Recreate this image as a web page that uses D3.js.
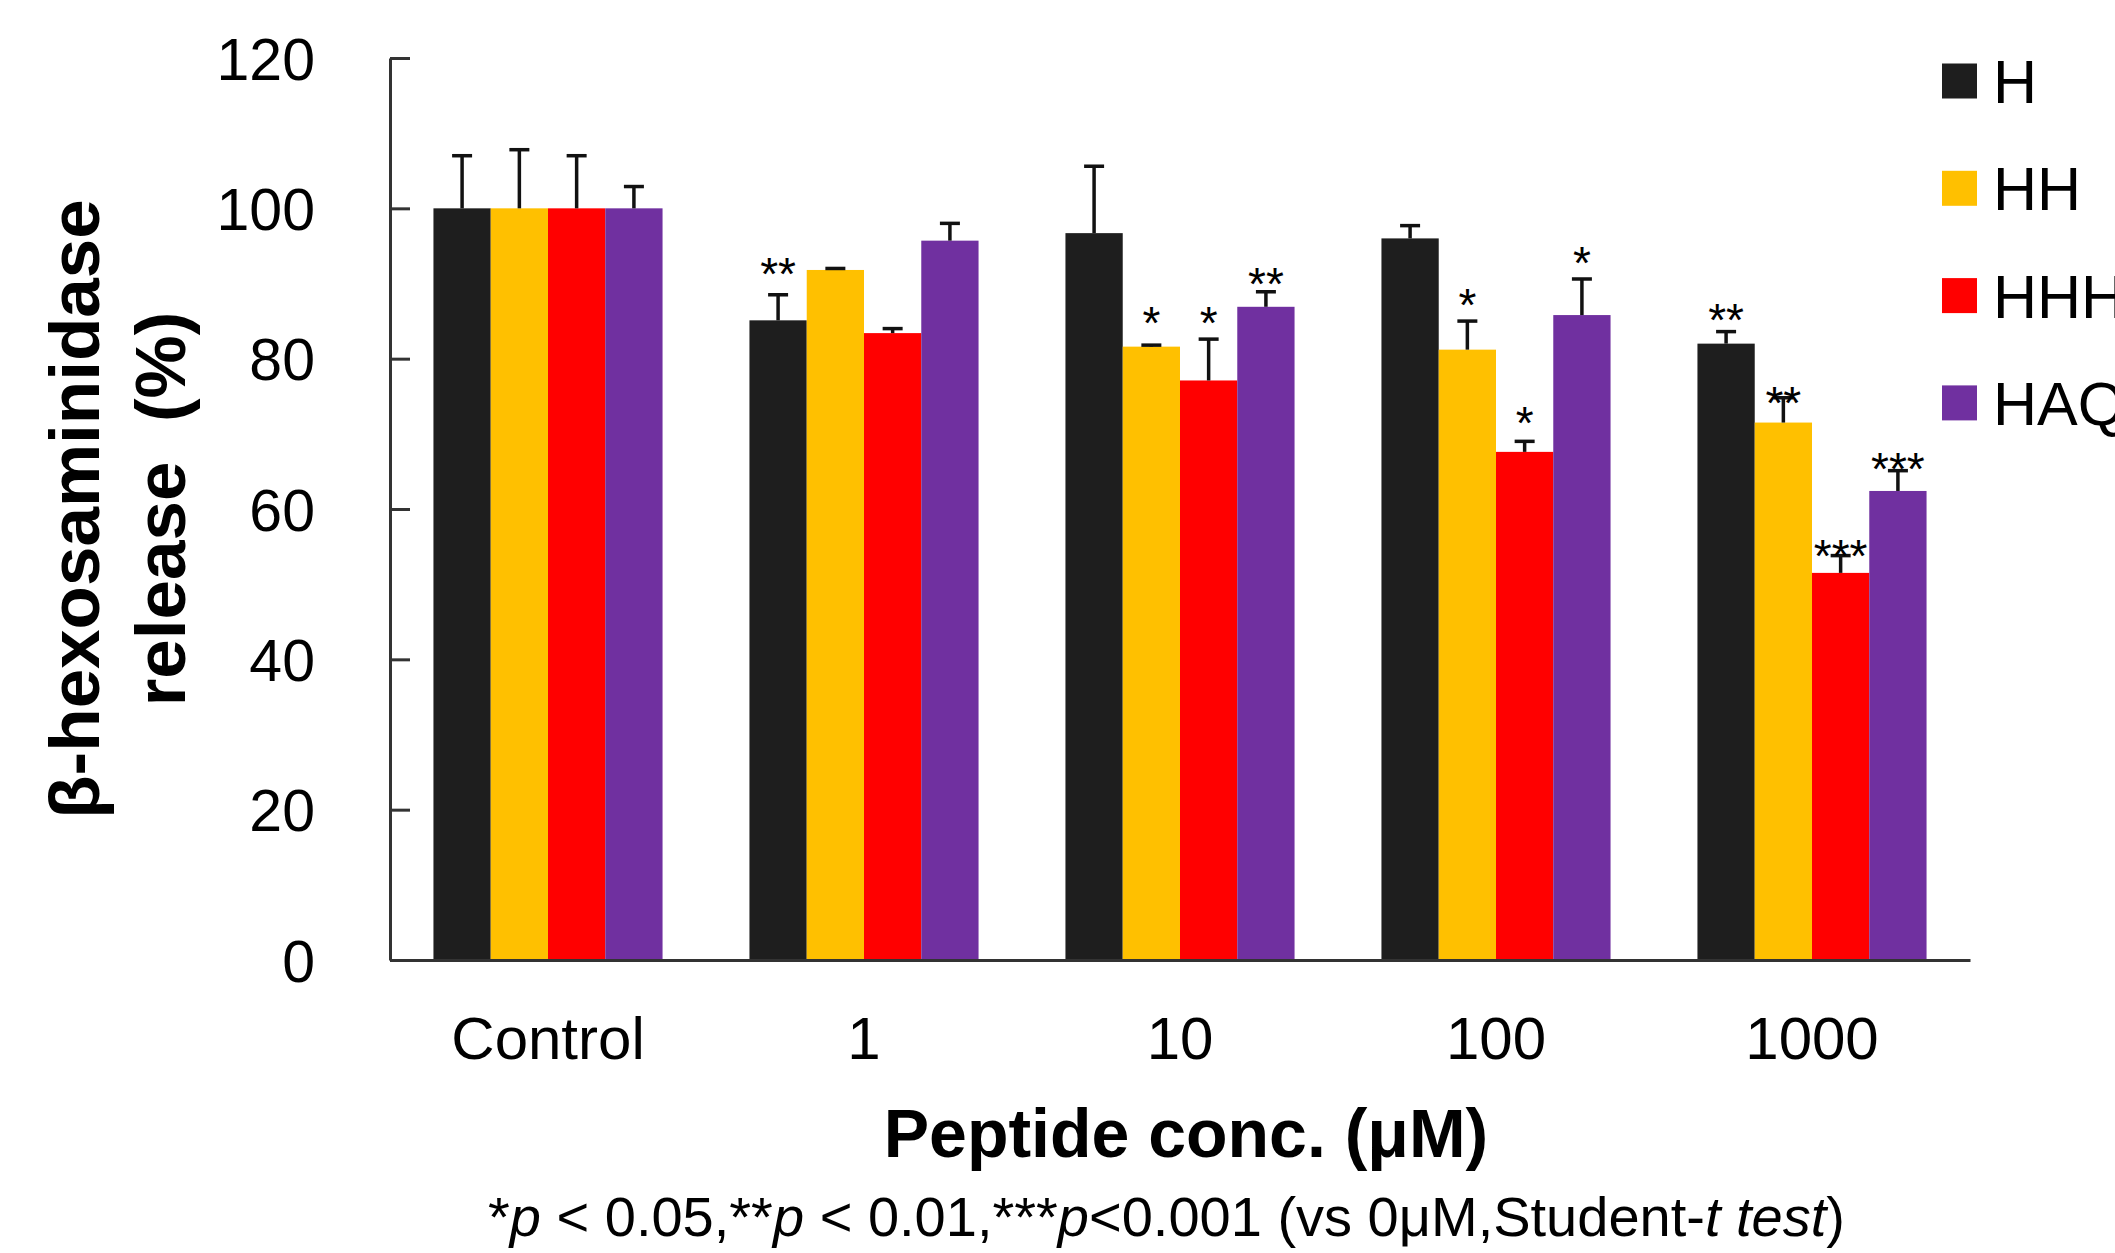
<!DOCTYPE html>
<html>
<head>
<meta charset="utf-8">
<script src="https://cdn.jsdelivr.net/npm/d3@7"></script>
<style>
  html, body { margin: 0; padding: 0; background: #fff; }
  svg { display: block; }
  text { font-family: "Liberation Sans", Arial, sans-serif; fill: #000; }
</style>
</head>
<body>
<script>
// ---- data ----
const categories = ["Control", "1", "10", "100", "1000"];
const seriesNames = ["H", "HH", "HHH", "HAQ"];
const seriesColors = ["#1e1e1e", "#FFC000", "#FF0000", "#7030A0"];

const valH   = [100, 85.1, 96.7, 96.0, 82.0];
const valHH  = [100, 91.8, 81.6, 81.2, 71.5];
const valHHH = [100, 83.4, 77.1, 67.6, 51.5];
const valHAQ = [100, 95.7, 86.9, 85.8, 62.4];

const errH   = [7.0, 3.4, 8.9, 1.7, 1.6];
const errHH  = [7.8, 0.2, 0.2, 3.8, 3.3];
const errHHH = [7.0, 0.6, 5.5, 1.4, 2.3];
const errHAQ = [2.9, 2.3, 2.0, 4.8, 2.7];

// significance marks and the data level (%) at which each mark sits
const sigH   = ["", "**", "", "", "**"];
const sigHH  = ["", "", "*", "*", "**"];
const sigHHH = ["", "", "*", "*", "***"];
const sigHAQ = ["", "", "**", "*", "***"];
const sigLvH   = [null, 92.7, null, null, 86.5];
const sigLvHH  = [null, null, 86.1, 88.6, 75.5];
const sigLvHHH = [null, null, 86.1, 72.8, 55.2];
const sigLvHAQ = [null, null, 91.4, 94.2, 66.7];

const yTicks = [0, 20, 40, 60, 80, 100, 120];
const yTitle = ["β-hexosaminidase", "release  (%)"];
const xTitle = "Peptide conc. (μM)";

// ---- build ----
(function () {
const values = [valH, valHH, valHHH, valHAQ];
const errors = [errH, errHH, errHHH, errHAQ];
const sigs = [sigH, sigHH, sigHHH, sigHAQ];
const sigLv = [sigLvH, sigLvHH, sigLvHHH, sigLvHAQ];

const W = 2115, H = 1253;
const pL = 390, pR = 1970, pT = 58, pB = 960;

const svg = d3.select("body").append("svg")
  .attr("width", W).attr("height", H).attr("viewBox", `0 0 ${W} ${H}`);
svg.append("rect").attr("width", W).attr("height", H).attr("fill", "#fff");

const y = d3.scaleLinear().domain([0, 120]).range([pB, pT]);
const x0 = d3.scaleBand().domain(categories).range([pL, pR])
  .paddingInner(0.275).paddingOuter(0.1375);
const x1 = d3.scaleBand().domain(seriesNames).range([0, x0.bandwidth()]);

const rows = [];
seriesNames.forEach((s, si) => {
  categories.forEach((c, ci) => {
    rows.push({ s, si, c, v: values[si][ci], e: errors[si][ci], sig: sigs[si][ci], lv: sigLv[si][ci] });
  });
});

// bars
svg.append("g").selectAll("rect").data(rows).join("rect")
  .attr("x", d => x0(d.c) + x1(d.s))
  .attr("width", x1.bandwidth())
  .attr("y", d => y(d.v))
  .attr("height", d => y(0) - y(d.v))
  .attr("fill", d => seriesColors[d.si]);

// error bars
const eg = svg.append("g").attr("stroke", "#111").attr("stroke-width", 3.5).attr("fill", "none");
const capW = 20;
rows.forEach(d => {
  const cx = x0(d.c) + x1(d.s) + x1.bandwidth() / 2;
  eg.append("line").attr("x1", cx).attr("x2", cx).attr("y1", y(d.v)).attr("y2", y(d.v + d.e));
  eg.append("line").attr("x1", cx - capW / 2).attr("x2", cx + capW / 2).attr("y1", y(d.v + d.e)).attr("y2", y(d.v + d.e));
});

// significance stars
const starFs = 46;
svg.append("g").selectAll("text").data(rows.filter(d => d.sig)).join("text")
  .attr("x", d => x0(d.c) + x1(d.s) + x1.bandwidth() / 2)
  .attr("y", d => y(d.lv) + starFs * 0.58)
  .attr("text-anchor", "middle")
  .attr("font-size", starFs)
  .attr("fill", "#222")
  .text(d => d.sig);

// y axis
const yAxis = d3.axisLeft(y).tickValues(yTicks).tickSizeInner(-20).tickSizeOuter(0).tickPadding(75);
const gy = svg.append("g").attr("transform", `translate(${pL},0)`).call(yAxis);
gy.select(".domain").attr("stroke", "#333").attr("stroke-width", 3);
gy.selectAll(".tick line").attr("stroke", "#333").attr("stroke-width", 3);
gy.selectAll(".tick text").attr("font-size", 59).attr("font-family", "'Liberation Sans', Arial, sans-serif")
  .attr("fill", "#000").attr("dy", "0.36em");

// x axis
const xAxis = d3.axisBottom(x0).tickSize(0).tickSizeOuter(0).tickPadding(0);
const gx = svg.append("g").attr("transform", `translate(0,${pB})`).call(xAxis);
gx.select(".domain").attr("stroke", "#333").attr("stroke-width", 3);
gx.selectAll(".tick text").attr("font-size", 60).attr("font-family", "'Liberation Sans', Arial, sans-serif")
  .attr("fill", "#000").attr("dy", null).attr("y", 99);

// y title
const yt = svg.append("g");
yt.append("text").attr("transform", `translate(99,${(pT + pB) / 2}) rotate(-90)`)
  .attr("text-anchor", "middle").attr("font-size", 71).attr("font-weight", "bold").text(yTitle[0]);
yt.append("text").attr("transform", `translate(185,${(pT + pB) / 2}) rotate(-90)`)
  .attr("text-anchor", "middle").attr("font-size", 71).attr("font-weight", "bold")
  .style("white-space", "pre").text(yTitle[1]);

// x title
svg.append("text").attr("x", 1186).attr("y", 1157).attr("text-anchor", "middle")
  .attr("font-size", 68).attr("font-weight", "bold").text(xTitle);

// footnote
const fn = svg.append("text").attr("x", 488).attr("y", 1236).attr("font-size", 56).style("white-space", "pre");
const parts = [["*", 0], ["p", 1], [" < 0.05,**", 0], ["p", 1], [" < 0.01,***", 0], ["p", 1],
  ["<0.001 (vs 0μM,Student-", 0], ["t", 1], [" ", 0], ["test", 1], [")", 0]];
parts.forEach(([t, it]) => {
  fn.append("tspan").attr("font-style", it ? "italic" : "normal").text(t);
});

// legend
const lg = svg.append("g");
const legTop = 81, legStep = 107.3, sw = 35;
seriesNames.forEach((s, i) => {
  const cy = legTop + i * legStep;
  lg.append("rect").attr("x", 1942).attr("y", cy - sw / 2).attr("width", sw).attr("height", sw)
    .attr("fill", seriesColors[i]);
  lg.append("text").attr("x", 1993).attr("y", cy + 22).attr("font-size", 61).text(s);
});
})();
</script>
</body>
</html>
